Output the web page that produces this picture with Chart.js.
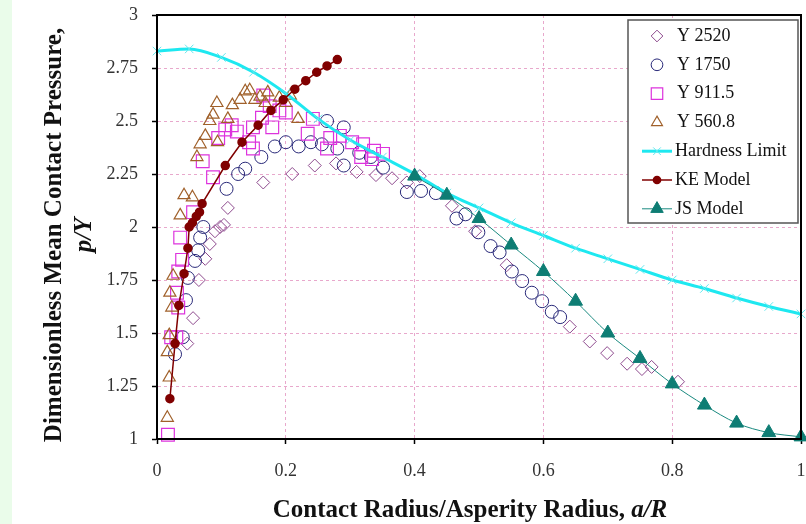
<!DOCTYPE html>
<html>
<head>
<meta charset="utf-8">
<script src="https://cdn.jsdelivr.net/npm/chart.js@4.4.1/dist/chart.umd.min.js"></script>
<style>
  html, body { margin: 0; padding: 0; background: #fff; }
  #wrap { width: 806px; height: 524px; }
</style>
</head>
<body>
<div id="wrap"><canvas id="chart" width="806" height="524"></canvas></div>
<script>
// tick labels
const xTickLabels = ['0', '0.2', '0.4', '0.6', '0.8', '1'];
const yTickLabels = ['1', '1.25', '1.5', '1.75', '2', '2.25', '2.5', '2.75', '3'];

// measured data, [a/R, p/Y]
const y2520 = [[0.047,1.45],[0.056,1.57],[0.065,1.75],[0.075,1.85],[0.082,1.92],[0.09,1.98],[0.098,2.0],[0.104,2.01],
  [0.11,2.09],[0.165,2.21],[0.21,2.25],[0.245,2.29],[0.278,2.30],[0.31,2.26],[0.34,2.245],[0.365,2.23],[0.388,2.21],
  [0.408,2.24],[0.458,2.10],[0.494,1.98],[0.543,1.82],[0.641,1.53],[0.672,1.46],[0.699,1.405],[0.73,1.355],
  [0.753,1.33],[0.768,1.34],[0.809,1.27]];
const y1750 = [[0.028,1.40],[0.04,1.48],[0.045,1.655],[0.048,1.76],[0.059,1.84],[0.064,1.89],[0.067,1.95],[0.072,2.0],
  [0.108,2.18],[0.126,2.25],[0.137,2.275],[0.162,2.33],[0.183,2.38],[0.2,2.40],[0.22,2.38],[0.239,2.40],[0.256,2.39],
  [0.264,2.50],[0.28,2.37],[0.29,2.47],[0.29,2.29],[0.314,2.35],[0.332,2.33],[0.351,2.28],[0.388,2.165],[0.41,2.17],
  [0.433,2.16],[0.465,2.04],[0.479,2.06],[0.499,1.975],[0.518,1.91],[0.532,1.88],[0.551,1.79],[0.567,1.745],
  [0.582,1.69],[0.598,1.65],[0.613,1.60],[0.626,1.575]];
const y911 = [[0.017,1.02],[0.022,1.48],[0.03,1.48],[0.033,1.62],[0.031,1.69],[0.033,1.79],[0.039,1.845],[0.036,1.95],
  [0.056,2.07],[0.071,2.31],[0.087,2.235],[0.095,2.42],[0.106,2.46],[0.116,2.48],[0.124,2.45],[0.143,2.40],[0.149,2.37],
  [0.149,2.47],[0.163,2.515],[0.165,2.62],[0.175,2.57],[0.179,2.47],[0.19,2.55],[0.2,2.54],[0.234,2.44],[0.242,2.51],
  [0.264,2.37],[0.269,2.42],[0.284,2.43],[0.303,2.40],[0.32,2.39],[0.317,2.33],[0.334,2.32],[0.337,2.36],[0.351,2.345]];
const y560 = [[0.016,1.10],[0.019,1.29],[0.016,1.41],[0.019,1.49],[0.023,1.62],[0.02,1.69],[0.025,1.77],[0.036,2.055],
  [0.042,2.15],[0.055,2.14],[0.062,2.33],[0.067,2.39],[0.075,2.43],[0.082,2.50],[0.087,2.53],[0.093,2.585],[0.094,2.40],
  [0.11,2.51],[0.117,2.575],[0.129,2.60],[0.137,2.64],[0.144,2.645],[0.152,2.60],[0.16,2.615],[0.168,2.585],
  [0.172,2.635],[0.19,2.61],[0.2,2.585],[0.207,2.62],[0.219,2.51]];
const hardnessX = [0, 0.05, 0.1, 0.15, 0.2, 0.25, 0.3, 0.35, 0.4, 0.45, 0.5, 0.55, 0.6, 0.65, 0.7, 0.75, 0.8, 0.85, 0.9, 0.95, 1];
const hardnessY = [2.83, 2.84, 2.80, 2.73, 2.63, 2.51, 2.41, 2.33, 2.25, 2.16, 2.09, 2.02, 1.96, 1.90, 1.85, 1.80, 1.75, 1.71, 1.665, 1.625, 1.59];
const keModel = [[0.020,1.19],[0.028,1.45],[0.034,1.63],[0.042,1.78],[0.048,1.90],[0.050,2.00],[0.055,2.02],[0.061,2.05],
  [0.066,2.07],[0.070,2.11],[0.106,2.29],[0.132,2.40],[0.157,2.48],[0.177,2.55],[0.196,2.60],[0.214,2.65],[0.231,2.69],
  [0.248,2.73],[0.264,2.76],[0.280,2.79]];
const jsX = [0.4, 0.45, 0.5, 0.55, 0.6, 0.65, 0.7, 0.75, 0.8, 0.85, 0.9, 0.95, 1];
const jsY = [2.24, 2.15, 2.04, 1.915, 1.79, 1.65, 1.50, 1.38, 1.26, 1.16, 1.075, 1.03, 1.01];

const toPts = arr => arr.map(p => ({ x: p[0], y: p[1] }));
const zipPts = (xs, ys) => xs.map((x, i) => ({ x: x, y: ys[i] }));

const SERIF = '"Liberation Serif", "Times New Roman", serif';

const datasets = [
  { label: 'Y 2520', data: toPts(y2520), showLine: false, pointStyle: 'rectRot', pointRadius: 6.5,
    borderColor: '#8e4a8e', backgroundColor: 'transparent', borderWidth: 1 },
  { label: 'Y 1750', data: toPts(y1750), showLine: false, pointStyle: 'circle', pointRadius: 6.5,
    borderColor: '#2a2a7a', backgroundColor: 'transparent', borderWidth: 1 },
  { label: 'Y 911.5', data: toPts(y911), showLine: false, pointStyle: 'rect', pointRadius: 9,
    borderColor: '#dd33dd', backgroundColor: 'transparent', borderWidth: 1.2 },
  { label: 'Y 560.8', data: toPts(y560), showLine: false, pointStyle: 'triangle', pointRadius: 7,
    borderColor: '#a0602a', backgroundColor: 'transparent', borderWidth: 1.2 },
  { label: 'Hardness Limit', data: zipPts(hardnessX, hardnessY), showLine: true, tension: 0.4,
    cubicInterpolationMode: 'monotone', pointStyle: 'crossRot', pointRadius: 6,
    borderColor: '#1ee8f0', pointBorderColor: '#66e8ee', backgroundColor: 'transparent', borderWidth: 3, pointBorderWidth: 1 },
  { label: 'KE Model', data: toPts(keModel), showLine: true, tension: 0, pointStyle: 'circle', pointRadius: 4,
    borderColor: '#800000', backgroundColor: '#800000', borderWidth: 1.5 },
  { label: 'JS Model', data: zipPts(jsX, jsY), showLine: true, tension: 0.4, cubicInterpolationMode: 'monotone',
    pointStyle: 'triangle', pointRadius: 8, borderColor: '#1a8a80', backgroundColor: '#0e7d74',
    pointBorderColor: '#0e7d74', borderWidth: 1 }
];
datasets.forEach((d, i) => { d.order = 10 - i; d.clip = false; d.pointHoverRadius = d.pointRadius; });

// plot box is fixed in pixels, so drop the label overhang padding
const fixPads = s => { s.paddingLeft = 0; s.paddingRight = 0; s.paddingTop = 0; s.paddingBottom = 0; };

// frame, legend box and axis titles
const decor = {
  id: 'decor',
  beforeDraw(chart) {
    const ctx = chart.ctx;
    ctx.save();
    ctx.fillStyle = '#ffffff';
    ctx.fillRect(0, 0, chart.width, chart.height);
    ctx.fillStyle = '#eafcea';
    ctx.fillRect(0, 0, 12, chart.height);
    ctx.restore();
  },
  afterDatasetsDraw(chart) {
    const ctx = chart.ctx;
    const a = chart.chartArea;
    ctx.save();
    ctx.strokeStyle = '#000';
    ctx.lineWidth = 2;
    ctx.strokeRect(a.left, a.top, a.right - a.left, a.bottom - a.top);

    // legend
    const lx = 628, ly = 20, lw = 170, lh = 203;
    ctx.fillStyle = '#fff';
    ctx.fillRect(lx, ly, lw, lh);
    ctx.strokeStyle = '#555';
    ctx.lineWidth = 1.5;
    ctx.strokeRect(lx, ly, lw, lh);
    ctx.font = '18px ' + SERIF;
    ctx.textBaseline = 'middle';
    ctx.textAlign = 'left';
    chart.data.datasets.forEach((d, i) => {
      const cy = 36 + i * 28.8;
      const cx = 657;
      if (d.showLine) {
        ctx.strokeStyle = d.borderColor;
        ctx.lineWidth = d.borderWidth;
        ctx.beginPath();
        ctx.moveTo(642, cy);
        ctx.lineTo(672, cy);
        ctx.stroke();
      }
      ctx.strokeStyle = d.pointBorderColor || d.borderColor;
      ctx.fillStyle = d.backgroundColor;
      ctx.lineWidth = d.pointBorderWidth || d.borderWidth;
      Chart.helpers.drawPoint(ctx, { pointStyle: d.pointStyle, radius: d.pointRadius * 0.9, rotation: 0, borderWidth: ctx.lineWidth }, cx, cy);
      ctx.fillStyle = '#111';
      ctx.fillText(d.label, i < 4 ? 677 : 675, cy);
    });
    ctx.restore();
  },
  afterDraw(chart) {
    const ctx = chart.ctx;
    ctx.save();
    ctx.fillStyle = '#111';
    ctx.textBaseline = 'middle';
    // x title
    const bold = 'bold 25px ' + SERIF;
    const boldIt = 'italic bold 25px ' + SERIF;
    const p1 = 'Contact Radius/Asperity Radius, ';
    const p2 = 'a/R';
    ctx.font = bold;
    const w1 = ctx.measureText(p1).width;
    ctx.font = boldIt;
    const w2 = ctx.measureText(p2).width;
    let sx = 470 - (w1 + w2) / 2;
    ctx.textAlign = 'left';
    ctx.font = bold;
    ctx.fillText(p1, sx, 511);
    ctx.font = boldIt;
    ctx.fillText(p2, sx + w1, 511);
    // y title
    ctx.translate(55, 235);
    ctx.rotate(-Math.PI / 2);
    ctx.textAlign = 'center';
    ctx.font = bold;
    ctx.fillText('Dimensionless Mean Contact Pressure,', 0, 0);
    ctx.font = boldIt;
    ctx.fillText('p/Y', 0, 30);
    ctx.restore();
  }
};

new Chart(document.getElementById('chart'), {
  type: 'scatter',
  data: { datasets: datasets },
  options: {
    responsive: false,
    animation: false,
    events: [],
    layout: { autoPadding: false, padding: { left: 0, top: 15, right: 5, bottom: 0 } },
    plugins: { legend: { display: false }, tooltip: { enabled: false } },
    scales: {
      x: {
        type: 'linear', min: 0, max: 1,
        afterFit: s => { s.height = 85; fixPads(s); },
        afterBuildTicks: s => { s.ticks = xTickLabels.map(v => ({ value: parseFloat(v) })); },
        ticks: { callback: (v, i) => xTickLabels[i], color: '#333', padding: 16, maxRotation: 0,
          font: { family: SERIF, size: 18 } },
        grid: { color: '#e8a8cc', lineWidth: 1, tickColor: '#000', tickLength: 5, tickWidth: 1.5 },
        border: { color: '#000', width: 2, dash: [3, 3] }
      },
      y: {
        type: 'linear', min: 1, max: 3,
        afterFit: s => { s.width = 157; fixPads(s); },
        afterBuildTicks: s => { s.ticks = yTickLabels.map(v => ({ value: parseFloat(v) })); },
        ticks: { callback: (v, i) => yTickLabels[i], color: '#333', padding: 14,
          font: { family: SERIF, size: 18 } },
        grid: { color: '#e8a8cc', lineWidth: 1, tickColor: '#000', tickLength: 5, tickWidth: 1.5 },
        border: { color: '#000', width: 2, dash: [3, 3] }
      }
    }
  },
  plugins: [decor]
});
</script>
</body>
</html>
